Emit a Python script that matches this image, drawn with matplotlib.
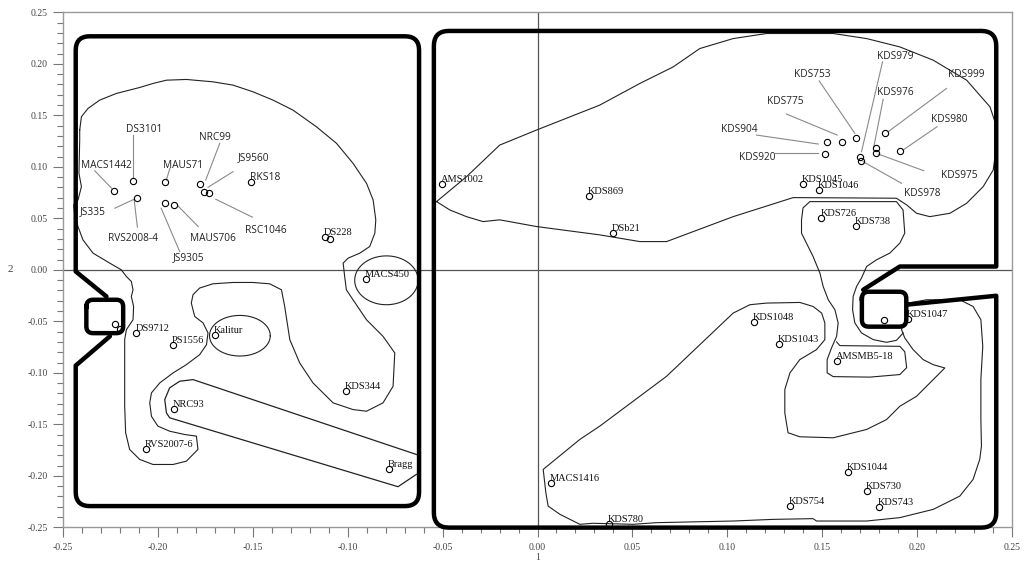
import numpy as np
import matplotlib
matplotlib.use('Agg')
import matplotlib.pyplot as plt
from matplotlib.ticker import MultipleLocator, FormatStrFormatter

plt.rcParams['font.family'] = ['Liberation Serif', 'DejaVu Serif']
plt.rcParams['axes.unicode_minus'] = False

# ---- points labelled next to the marker (serif) ----
pt_names = ['RKS18', 'DS228', 'MACS450', 'AMS1002', 'DS9712', 'PS1556', 'Kalitur',
            'KDS344', 'NRC93', 'RVS2007-6', 'Bragg', 'KDS869', 'DSb21', 'KDS1045',
            'KDS1046', 'KDS726', 'KDS738', 'KDS1047', 'KDS1048', 'KDS1043',
            'AMSMB5-18', 'KDS1044', 'KDS730', 'KDS743', 'KDS754', 'KDS780', 'MACS1416']
pt_x = [-0.1512, -0.1120, -0.0906, -0.0504, -0.2113, -0.1923, -0.1700,
        -0.1010, -0.1916, -0.2065, -0.0782, 0.0272, 0.0398, 0.1399,
        0.1482, 0.1496, 0.1677, 0.1953, 0.1140, 0.1271,
        0.1579, 0.1635, 0.1737, 0.1800, 0.1329, 0.0377, 0.0070]
pt_y = [0.0853, 0.0320, -0.0090, 0.0830, -0.0614, -0.0727, -0.0630,
        -0.1172, -0.1347, -0.1738, -0.1938, 0.0717, 0.0355, 0.0830,
        0.0775, 0.0507, 0.0426, -0.0478, -0.0510, -0.0717,
        -0.0882, -0.1960, -0.2151, -0.2300, -0.2293, -0.2464, -0.2067]

# ---- points with leader-line labels (sans) ----
lead_names = ['MACS1442', 'DS3101', 'JS335', 'RVS2008-4', 'MAUS71', 'JS9305', 'MAUS706',
              'NRC99', 'JS9560', 'RSC1046', 'KDS904', 'KDS775', 'KDS753', 'KDS920',
              'KDS979', 'KDS976', 'KDS999', 'KDS980', 'KDS975', 'KDS978']
lead_px = [-0.2229, -0.2132, None, -0.2108, -0.1965, -0.1964, -0.1913,
           -0.1779, -0.1758, -0.1733, 0.1523, 0.1605, 0.1677, 0.1517,
           0.1698, 0.1782, 0.1832, 0.1909, 0.1782, 0.1702]
lead_py = [0.0768, 0.0860, None, 0.0695, 0.0850, 0.0649, 0.0633,
           0.0833, 0.0759, 0.0749, 0.1237, 0.1243, 0.1276, 0.1121,
           0.1098, 0.1179, 0.1325, 0.1156, 0.1130, 0.1059]
lead_tx = [-0.2271, -0.2074, -0.2341, -0.2131, -0.1870, -0.1841, -0.1709,
           -0.1700, -0.1498, -0.1432, 0.1062, 0.1307, 0.1449, 0.1157,
           0.1883, 0.1883, 0.2261, 0.2169, 0.2220, 0.2029]
lead_ty = [0.1011, 0.1363, 0.0562, 0.0303, 0.1011, 0.0123, 0.0303,
           0.1286, 0.1092, 0.0385, 0.1363, 0.1631, 0.1893, 0.1092,
           0.2074, 0.1718, 0.1899, 0.1460, 0.0918, 0.0736]
lead_x0 = [-0.2333, -0.2129, -0.2227, -0.2108, -0.1937, -0.1885, -0.1788,
           -0.1674, -0.1604, -0.1502, 0.1154, 0.1312, 0.1484, 0.1250,
           0.1818, 0.1821, 0.2155, 0.2105, 0.2035, 0.1918]
lead_y0 = [0.0962, 0.1308, 0.0598, 0.0414, 0.0985, 0.0177, 0.0420,
           0.1228, 0.0953, 0.0511, 0.1308, 0.1512, 0.1834, 0.1134,
           0.2019, 0.1654, 0.1761, 0.1389, 0.0962, 0.0840]
lead_x1 = [-0.2244, -0.2129, -0.2122, -0.2125, -0.1955, -0.1983, -0.1894,
           -0.1748, -0.1736, -0.1695, 0.1479, 0.1579, 0.1672, 0.1479,
           0.1707, 0.1772, 0.1847, 0.1926, 0.1795, 0.1716]
lead_y1 = [0.0792, 0.0888, 0.0688, 0.0678, 0.0872, 0.0598, 0.0620,
           0.0872, 0.0801, 0.0685, 0.1221, 0.1308, 0.1325, 0.1134,
           0.1146, 0.1195, 0.1340, 0.1163, 0.1124, 0.1049]

# unlabelled markers
extra_x = [-0.1094, -0.2227, -0.2201, 0.1825]
extra_y = [0.0303, -0.0526, -0.0575, -0.0484]

# ---- thin contour outlines ----
contA_x = [-0.2412, -0.2403, -0.2368, -0.2307, -0.2219, -0.2096, -0.2026, -0.1955, -0.1850,
           -0.1710, -0.1604, -0.1499, -0.1393, -0.1288, -0.1165, -0.1059, -0.0972, -0.0901,
           -0.0866, -0.0852, -0.0857, -0.0884, -0.0936, -0.0998, -0.1024, -0.1016, -0.1007,
           -0.0972, -0.0901, -0.0814, -0.0752, -0.0761, -0.0814, -0.0901, -0.0972, -0.1077,
           -0.1183, -0.1253, -0.1305, -0.1332, -0.1349, -0.1411, -0.1499, -0.1604, -0.1710,
           -0.1780, -0.1815, -0.1824, -0.1806, -0.1762, -0.1736, -0.1744, -0.1780, -0.1850,
           -0.1920, -0.1990, -0.2034, -0.2043, -0.2034, -0.2000, -0.1938, -0.1859, -0.1797,
           -0.1789, -0.1806, -0.1850, -0.1920, -0.2026, -0.2096, -0.2149, -0.2170, -0.2175,
           -0.2175, -0.2175, -0.2166, -0.2131, -0.2128, -0.2140, -0.2131, -0.2140, -0.2166,
           -0.2193, -0.2254, -0.2342, -0.2395, -0.2421, -0.2439, -0.2444, -0.2421, -0.2403,
           -0.2416, -0.2412, -0.2412]
contA_y = [0.1357, 0.1486, 0.1567, 0.1647, 0.1712, 0.1770, 0.1809, 0.1841, 0.1848,
           0.1825, 0.1793, 0.1728, 0.1647, 0.1550, 0.1389, 0.1228, 0.1034, 0.0840,
           0.0678, 0.0485, 0.0356, 0.0226, 0.0162, 0.0113, 0.0065, -0.0065, -0.0194,
           -0.0291, -0.0485, -0.0646, -0.0807, -0.1131, -0.1292, -0.1373, -0.1357, -0.1292,
           -0.1098, -0.0904, -0.0678, -0.0356, -0.0194, -0.0136, -0.0123, -0.0123, -0.0136,
           -0.0177, -0.0242, -0.0323, -0.0453, -0.0516, -0.0613, -0.0727, -0.0824, -0.0921,
           -0.1001, -0.1098, -0.1195, -0.1292, -0.1422, -0.1518, -0.1567, -0.1599, -0.1615,
           -0.1744, -0.1776, -0.1858, -0.1890, -0.1890, -0.1841, -0.1744, -0.1582, -0.1325,
           -0.0743, -0.0678, -0.0581, -0.0485, -0.0356, -0.0259, -0.0194, -0.0113, -0.0065,
           0.0000, 0.0065, 0.0162, 0.0291, 0.0420, 0.0549, 0.0630, 0.0678, 0.0807,
           0.0937, 0.1260, 0.1357]

band_x = [-0.0638, -0.0735, -0.1938, -0.1955, -0.1964, -0.1938, -0.1885, -0.1815, -0.0638]
band_y = [-0.1986, -0.2106, -0.1437, -0.1389, -0.1260, -0.1146, -0.1082, -0.1066, -0.1793]

# ellipses: centre x, centre y, width, height
ell_cx = [-0.1568, -0.0796]
ell_cy = [-0.0640, -0.0102]
ell_w = [0.0320, 0.0334]
ell_h = [0.0394, 0.0474]

contB_x = [-0.0532, -0.0374, -0.0199, -0.0005, 0.0328, 0.0539, 0.0715, 0.0855, 0.1031,
           0.1207, 0.1558, 0.1734, 0.1909, 0.2085, 0.2261, 0.2384, 0.2419, 0.2415, 0.2401,
           0.2348, 0.2261, 0.2173, 0.2067, 0.1997, 0.1945, 0.1891, 0.1347, 0.1031, 0.0680,
           0.0539, 0.0328, -0.0005, -0.0199, -0.0287, -0.0374, -0.0462, -0.0532]
contB_y = [0.0662, 0.0904, 0.1211, 0.1357, 0.1599, 0.1809, 0.1970, 0.2148, 0.2245,
           0.2294, 0.2294, 0.2245, 0.2164, 0.2035, 0.1841, 0.1582, 0.1389, 0.1163, 0.0969,
           0.0807, 0.0646, 0.0549, 0.0516, 0.0549, 0.0630, 0.0695, 0.0701, 0.0516, 0.0274,
           0.0274, 0.0339, 0.0420, 0.0485, 0.0468, 0.0516, 0.0581, 0.0662]

contD_x = [0.1953, 0.2050, 0.2225, 0.2295, 0.2336, 0.2346, 0.2336, 0.2336, 0.2339, 0.2330,
           0.2295, 0.2225, 0.2085, 0.1909, 0.1734, 0.1470, 0.1452, 0.1241, 0.1031, 0.0627,
           0.0504, 0.0293, 0.0223, 0.0118, 0.0056, 0.0044, 0.0030, 0.0223, 0.0328, 0.0680,
           0.1031, 0.1066, 0.1119, 0.1207, 0.1382, 0.1452, 0.1497, 0.1514, 0.1514, 0.1470,
           0.1382, 0.1330, 0.1303, 0.1303, 0.1320, 0.1382, 0.1558, 0.1734, 0.1839, 0.1909,
           0.1997, 0.2085, 0.2146, 0.2085, 0.2032, 0.1979, 0.1935, 0.1918, 0.1953]
contD_y = [-0.0323, -0.0291, -0.0291, -0.0356, -0.0485, -0.0743, -0.1066, -0.1454, -0.1712,
           -0.1841, -0.2035, -0.2197, -0.2326, -0.2406, -0.2439, -0.2439, -0.2416, -0.2423,
           -0.2439, -0.2455, -0.2471, -0.2461, -0.2471, -0.2374, -0.2294, -0.2164, -0.1938,
           -0.1647, -0.1518, -0.1034, -0.0420, -0.0388, -0.0339, -0.0323, -0.0317, -0.0356,
           -0.0420, -0.0516, -0.0678, -0.0775, -0.0872, -0.1001, -0.1163, -0.1389, -0.1582,
           -0.1621, -0.1631, -0.1550, -0.1454, -0.1325, -0.1228, -0.1066, -0.0953, -0.0921,
           -0.0872, -0.0775, -0.0662, -0.0581, -0.0323]

contE_x = [0.1927, 0.1891, 0.1839, 0.1769, 0.1707, 0.1672, 0.1660, 0.1663, 0.1681, 0.1707,
           0.1734, 0.1786, 0.1856, 0.1909, 0.1935, 0.1926, 0.1891, 0.1435, 0.1399, 0.1391,
           0.1391, 0.1417, 0.1452, 0.1488, 0.1505, 0.1532, 0.1567, 0.1584, 0.1576, 0.1549,
           0.1526, 0.1526, 0.1558, 0.1751, 0.1909, 0.1945, 0.1935, 0.1909, 0.1593, 0.1576]
contE_y = [-0.0613, -0.0685, -0.0704, -0.0678, -0.0613, -0.0516, -0.0388, -0.0259, -0.0162,
           -0.0080, 0.0032, 0.0097, 0.0162, 0.0259, 0.0356, 0.0581, 0.0662, 0.0662, 0.0601,
           0.0485, 0.0356, 0.0259, 0.0129, -0.0032, -0.0162, -0.0291, -0.0388, -0.0516,
           -0.0646, -0.0759, -0.0872, -0.1001, -0.1037, -0.1042, -0.1017, -0.0950, -0.0795,
           -0.0743, -0.0736, -0.0700]

# ---- thick group outlines (vertex, corner radius in px) ----
left_x = [-0.2271, -0.2433, -0.2433, -0.0624, -0.0624, -0.2433, -0.2433, -0.2253]
left_y = [-0.0259, -0.0016, 0.2267, 0.2267, -0.2294, -0.2294, -0.0930, -0.0646]
left_r = [0, 0, 14, 14, 14, 14, 0, 0]
lbox_x = [-0.2377, -0.2183, -0.2183, -0.2377]
lbox_y = [-0.0291, -0.0291, -0.0615, -0.0615]

right_x = [0.1716, 0.1909, 0.2417, 0.2417, -0.0546, -0.0546, 0.2417, 0.2417, 0.1943]
right_y = [-0.0194, 0.0032, 0.0032, 0.2319, 0.2319, -0.2503, -0.2503, -0.0252, -0.0339]
right_r = [0, 0, 0, 15, 15, 15, 15, 0, 0]
rbox_x = [0.1709, 0.1943, 0.1943, 0.1709]
rbox_y = [-0.0213, -0.0213, -0.0552, -0.0552]

xlim = (-0.25, 0.25)
ylim = (-0.25, 0.25)

fig = plt.figure(figsize=(10.26, 5.64), dpi=100)
ax = fig.add_axes([63 / 1026, 36.7 / 564, 949 / 1026, 515 / 564])
ax.set_xlim(*xlim)
ax.set_ylim(*ylim)

# pixels per data unit, used only to round the corners evenly
SX = 949 / (xlim[1] - xlim[0])
SY = 515 / (ylim[1] - ylim[0])


def rounded(xs, ys, radii, closed=False):
    P = np.column_stack([np.array(xs) * SX, np.array(ys) * SY])
    n = len(P)
    out = []
    for i in range(n):
        r = radii[i]
        if r == 0 or (not closed and (i == 0 or i == n - 1)):
            out.append(P[i])
            continue
        p0, p1, p2 = P[i - 1], P[i], P[(i + 1) % n]
        u1 = (p1 - p0) / np.linalg.norm(p1 - p0)
        u2 = (p2 - p1) / np.linalg.norm(p2 - p1)
        a = p1 - r * u1
        b = p1 + r * u2
        for t in np.linspace(0, 1, 9):
            out.append((1 - t) ** 2 * a + 2 * (1 - t) * t * p1 + t ** 2 * b)
    if closed:
        out.append(out[0])
    out = np.array(out)
    return out[:, 0] / SX, out[:, 1] / SY


# zero lines
ax.axhline(0, color='#555555', lw=0.9, zorder=1)
ax.axvline(0, color='#555555', lw=0.9, zorder=1)

# thin contours
for cx, cy in [(contA_x, contA_y), (contB_x, contB_y), (contD_x, contD_y), (contE_x, contE_y)]:
    ax.plot(cx, cy, color='#222222', lw=0.8, zorder=2)
ax.plot(band_x, band_y, color='#222222', lw=0.9, zorder=2)
t = np.linspace(0, 2 * np.pi, 120)
for cx, cy, w, h in zip(ell_cx, ell_cy, ell_w, ell_h):
    ax.plot(cx + w / 2 * np.cos(t), cy + h / 2 * np.sin(t), color='#222222', lw=0.8, zorder=2)

# leader lines
for x0, y0, x1, y1 in zip(lead_x0, lead_y0, lead_x1, lead_y1):
    ax.plot([x0, x1], [y0, y1], color='#8a8a8a', lw=0.8, zorder=2)

# thick outlines
lx, ly = rounded(left_x, left_y, left_r)
ax.plot(lx, ly, color='black', lw=3.2, solid_capstyle='round', zorder=3, clip_on=False)
rx, ry = rounded(right_x, right_y, right_r)
ax.plot(rx, ry, color='black', lw=3.2, solid_capstyle='round', zorder=3, clip_on=False)
for bx, by in [(lbox_x, lbox_y), (rbox_x, rbox_y)]:
    sx, sy = rounded(bx, by, [7, 7, 7, 7], closed=True)
    ax.fill(sx, sy, color='white', zorder=3.5)
    ax.plot(sx, sy, color='black', lw=3.2, zorder=4)

# markers
mk = dict(marker='o', ms=4.5, mfc='none', mec='black', mew=0.8, ls='none', zorder=5)
ax.plot(pt_x, pt_y, **mk)
ax.plot([v for v in lead_px if v is not None], [v for v in lead_py if v is not None], **mk)
ax.plot(extra_x, extra_y, **mk)

# labels
for name, x, y in zip(pt_names, pt_x, pt_y):
    if name == 'RKS18':
        ax.annotate(name, (x, y), xytext=(-1, 2), textcoords='offset pixels',
                    ha='left', va='baseline', fontsize=7.5, family=['Open Sans', 'DejaVu Sans'],
                    color='#222222', zorder=6)
    else:
        ax.annotate(name, (x, y), xytext=(-1, 2), textcoords='offset pixels',
                    ha='left', va='baseline', fontsize=7.5, color='#111111', zorder=6)
for name, x, y in zip(lead_names, lead_tx, lead_ty):
    ax.text(x, y, name, ha='center', va='center', fontsize=7.3,
            family=['Open Sans', 'DejaVu Sans'], color='#222222', zorder=6)

# axes styling
ax.xaxis.set_major_locator(MultipleLocator(0.05))
ax.xaxis.set_minor_locator(MultipleLocator(0.01))
ax.yaxis.set_major_locator(MultipleLocator(0.05))
ax.yaxis.set_minor_locator(MultipleLocator(0.01))
ax.xaxis.set_major_formatter(FormatStrFormatter('%.2f'))
ax.yaxis.set_major_formatter(FormatStrFormatter('%.2f'))
ax.tick_params(which='both', direction='out', color='#777777', width=0.8,
               labelsize=7, labelcolor='#444444', top=False, right=False)
ax.tick_params(which='major', length=7, pad=4)
ax.tick_params(which='minor', length=4)
for s in ax.spines.values():
    s.set_color('#999999')
    s.set_linewidth(1.0)
ax.set_xlabel('1', fontsize=7, color='#444444', labelpad=1)
ax.set_ylabel('2', fontsize=8, color='#444444', rotation=0, labelpad=12, va='center')

fig.savefig('out.png', dpi=100)
